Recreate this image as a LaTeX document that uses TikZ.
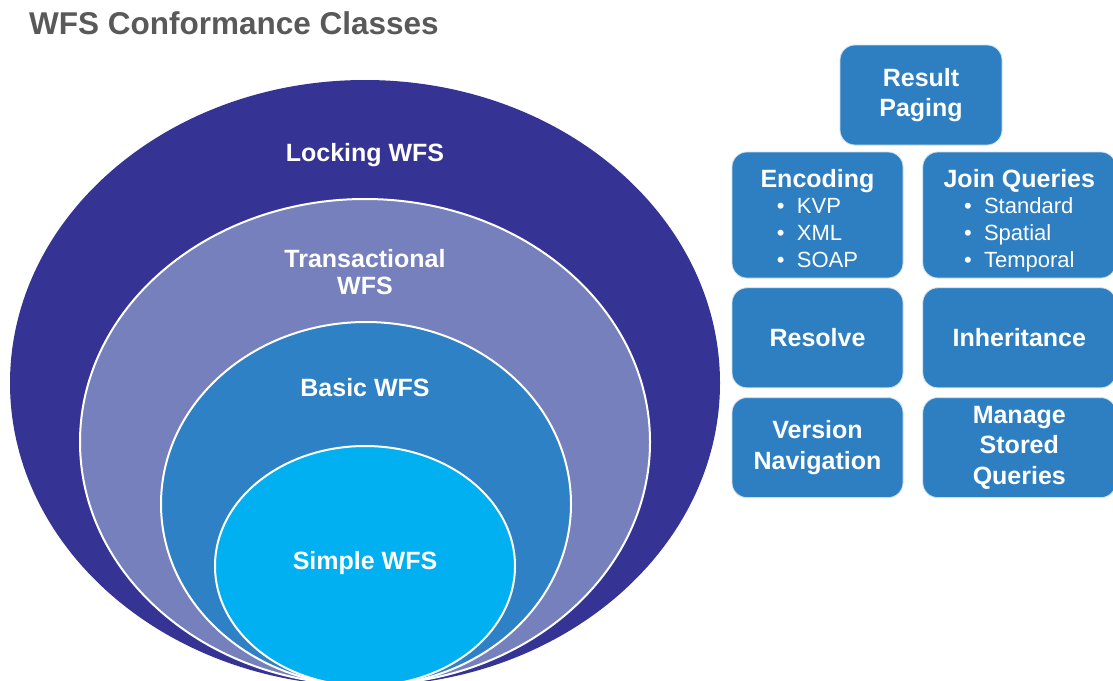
\documentclass[tikz,border=0pt]{standalone}
\usepackage{fontspec}
\setmainfont{Liberation Sans}
\usetikzlibrary{shapes.geometric, positioning}
\definecolor{lockcol}{RGB}{53,52,148}
\definecolor{transcol}{RGB}{118,128,189}
\definecolor{basiccol}{RGB}{46,129,196}
\definecolor{simplecol}{RGB}{0,176,240}
\definecolor{boxcol}{RGB}{46,127,193}
\definecolor{titlecol}{RGB}{89,89,89}
\tikzset{
  ring/.style={ellipse, draw=white, line width=2pt, inner sep=0pt},
  ringlabel/.style={text=white, font=\fontsize{25}{26.5}\selectfont\bfseries, align=center},
  classbox/.style={rectangle, rounded corners=15pt, fill=boxcol, draw=white!75!boxcol,
    line width=0.8pt, text=white, align=center, inner sep=0pt,
    font=\fontsize{25}{30.5}\selectfont\bfseries},
}
\newcommand{\bitem}[1]{\makebox[20pt][l]{\textbullet}#1}
\newcommand{\blist}[1]{{\fontsize{22}{27}\selectfont\mdseries\begin{tabular}{@{}l@{}}#1\end{tabular}}}

\begin{document}
\begin{tikzpicture}[x=1pt, y=-1pt]
  \clip (0,0) rectangle (1113,680);
  \fill[white] (0,0) rectangle (1113,680);

  % title
  \node[anchor=west, text=titlecol, font=\fontsize{31.5}{34}\selectfont\bfseries, inner sep=0pt]
    (title) at (29,23) {WFS Conformance Classes};

  % nested conformance classes
  \node[ring, fill=lockcol, draw=none, minimum width=710, minimum height=606] (locking) at (365,383) {};
  \node[ring, fill=transcol, minimum width=570, minimum height=486] (trans) at (365,442) {};
  \node[ring, fill=basiccol, minimum width=410, minimum height=364] (basic) at (366,504) {};
  \node[ring, fill=simplecol, minimum width=300, minimum height=240] (simple) at (365,566) {};

  \node[ringlabel] (lockinglbl) at (365,155) {Locking WFS};
  \node[ringlabel] (translbl) at (365,272) {Transactional\\WFS};
  \node[ringlabel] (basiclbl) at (365,388) {Basic WFS};
  \node[ringlabel] (simplelbl) at (365,563) {Simple WFS};

  % optional classes
  \node[classbox, minimum width=162, minimum height=100] (paging) at (921,95) {Result\\Paging};
  \node[classbox, minimum width=171, minimum height=126] (encoding) at (817.5,215)
    {\rule{0pt}{33pt}Encoding\\[1pt]\blist{\bitem{KVP}\\ \bitem{XML}\\ \bitem{SOAP}}};
  \node[classbox, minimum width=193, minimum height=126, right=19pt of encoding] (join)
    {\rule{0pt}{33pt}Join Queries\\[1pt]\blist{\bitem{Standard}\\ \bitem{Spatial}\\ \bitem{Temporal}}};
  \node[classbox, minimum width=171, minimum height=100, below=9pt of encoding] (resolve) {Resolve};
  \node[classbox, minimum width=193, minimum height=100, below=9pt of join] (inherit) {Inheritance};
  \node[classbox, minimum width=171, minimum height=100, below=9pt of resolve] (version) {Version\\Navigation};
  \node[classbox, minimum width=193, minimum height=100, below=9pt of inherit] (stored) {Manage\\Stored\\Queries};
\end{tikzpicture}
\end{document}
